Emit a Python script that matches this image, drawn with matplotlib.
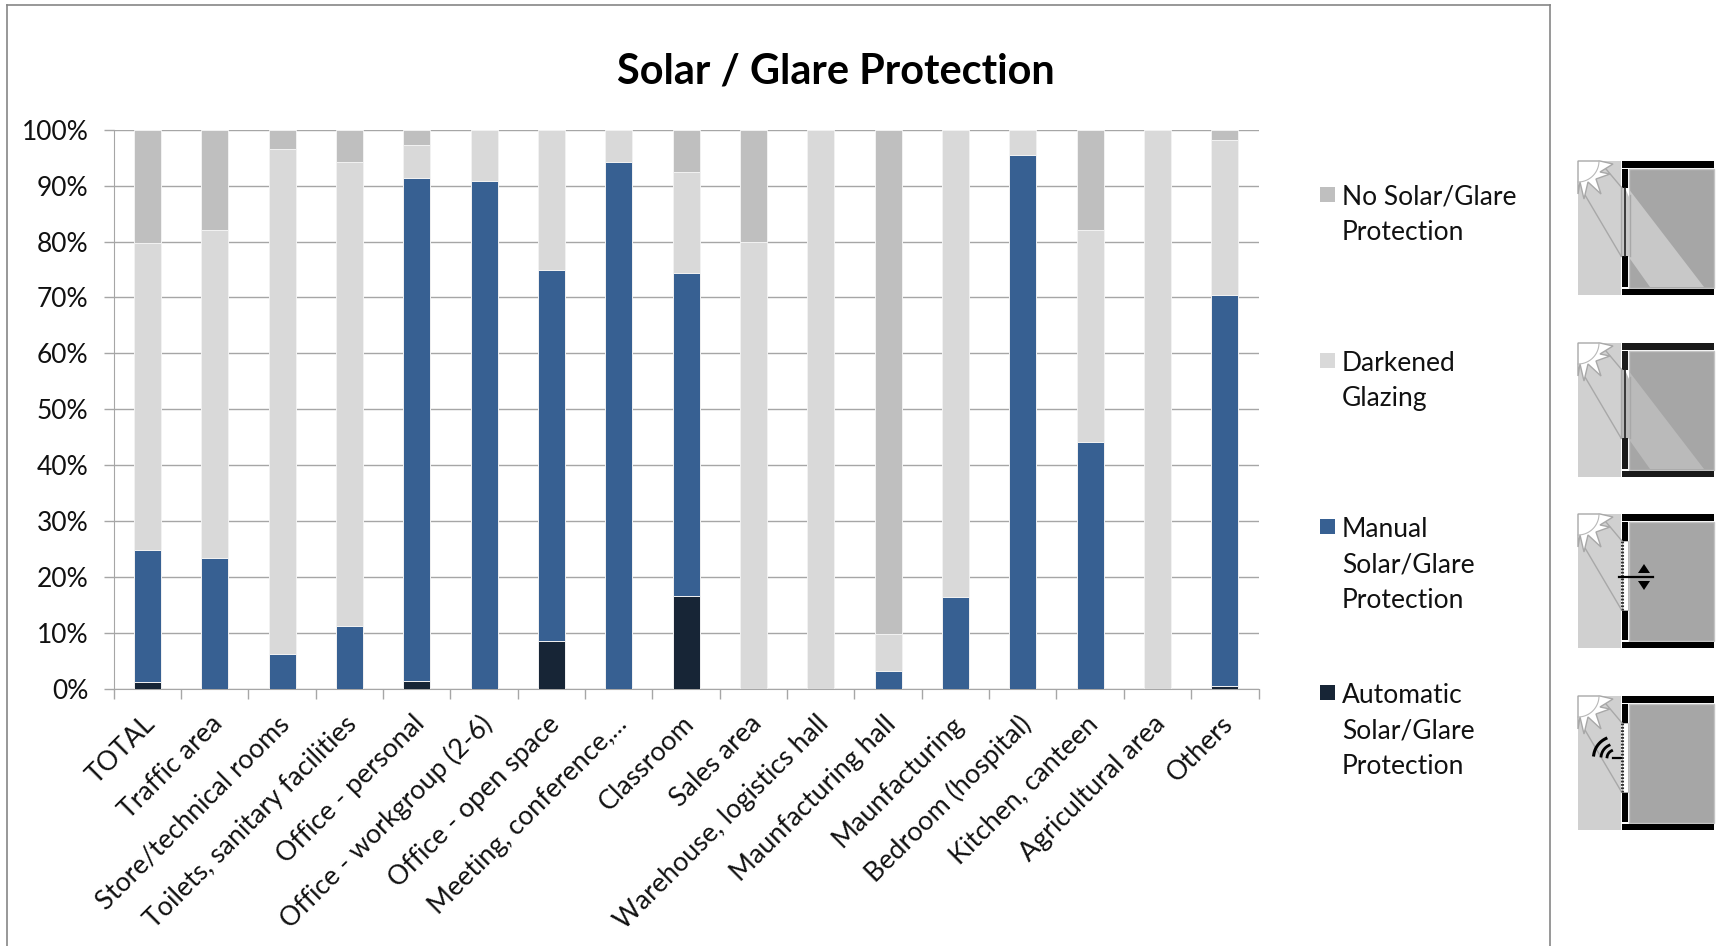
import numpy as np
import matplotlib
matplotlib.use("Agg")
import matplotlib.pyplot as plt
from matplotlib.patches import Rectangle, Polygon

plt.rcParams["font.family"] = ["Lato", "DejaVu Sans"]

W, H = 1717, 946

categories = ["TOTAL", "Traffic area", "Store/technical rooms", "Toilets, sanitary facilities",
              "Office - personal", "Office - workgroup (2-6)", "Office - open space",
              "Meeting, conference,...", "Classroom", "Sales area", "Warehouse, logistics hall",
              "Maunfacturing hall", "Maunfacturing", "Bedroom (hospital)", "Kitchen, canteen",
              "Agricultural area", "Others"]

automatic = [1.2, 0, 0, 0, 1.5, 0, 8.6, 0, 16.7, 0, 0, 0, 0, 0, 0, 0, 0.6]
manual = [23.6, 23.5, 6.2, 11.2, 89.9, 90.9, 66.4, 94.2, 57.6, 0, 0, 3.2, 16.5, 95.5, 44.2, 0, 69.8]
darkened = [55.0, 58.5, 90.3, 83.0, 5.8, 9.1, 25.0, 5.8, 18.1, 80.0, 100, 6.6, 83.5, 4.5, 37.8, 100, 27.8]
no_protection = [20.2, 18.0, 3.5, 5.8, 2.8, 0, 0, 0, 7.6, 20.0, 0, 90.2, 0, 0, 18.0, 0, 1.8]

series = [automatic, manual, darkened, no_protection]
colors = ["#172536", "#376092", "#d9d9d9", "#bfbfbf"]
legend_labels = ["Automatic\nSolar/Glare\nProtection", "Manual\nSolar/Glare\nProtection",
                 "Darkened\nGlazing", "No Solar/Glare\nProtection"]
legend_y = [693, 527, 361, 195]
y_ticks = list(range(0, 101, 10))


def draw_sun(ax, x0, y0):
    # quarter sun sitting in the top left corner of the icon
    outline = [(0, 0), (22, 0), (35, 3), (22, 11), (32, 13), (18, 18), (23, 33), (10, 21),
               (6, 38), (2, 21), (0, 33)]
    ax.add_patch(Polygon([(x0 + a, y0 + b) for a, b in outline], fc="white", ec="#a8a8a8", lw=1, zorder=5))
    t = np.radians(np.linspace(0, 90, 20))
    ax.plot(x0 + 21 * np.cos(t), y0 + 21 * np.sin(t), color="#b8b8b8", lw=0.8, zorder=6)


def draw_icon(ax, x0, y0, kind, black="#000000", beam="#c8c8c8"):
    ax.add_patch(Rectangle((x0, y0), 43, 134, fc="#d0d0d0", ec="none"))
    ax.add_patch(Rectangle((x0 + 51, y0 + 8), 85, 119, fc="#a6a6a6", ec="#c4c4c4", lw=1))
    if kind == "glass":
        ax.add_patch(Polygon([(x0 + 50, y0 + 27), (x0 + 126, y0 + 126), (x0 + 72, y0 + 126),
                              (x0 + 50, y0 + 95)], fc=beam, ec="none"))
        ax.add_patch(Rectangle((x0 + 43, y0 + 27), 9, 68, fc=beam, ec="none"))
        ax.add_patch(Polygon([(x0 + 47, y0 + 27), (x0 + 51, y0 + 27), (x0 + 51, y0 + 36)],
                             fc="white", ec="none", zorder=4))
        ax.plot([x0 + 47, x0 + 47], [y0 + 27, y0 + 95], color="#222222", lw=1.2, zorder=4)
        ax.plot([x0 + 43, x0 + 43], [y0 + 27, y0 + 95], color="#a8a8a8", lw=1, zorder=4)
        ax.plot([x0 + 52, x0 + 52], [y0 + 34, y0 + 95], color="#a8a8a8", lw=1, zorder=4)
    else:
        ax.add_patch(Rectangle((x0 + 44, y0 + 27), 6, 69, fc="white", ec="#b0b0b0", lw=0.6, zorder=4))
        ax.plot([x0 + 43.5, x0 + 43.5], [y0 + 27, y0 + 96], color="#333333", lw=2.2, ls=(0, (0.6, 0.5)), zorder=4)
    # rays from the sun to the window
    ax.plot([x0 + 28, x0 + 44], [y0 + 8, y0 + 27], color="#a8a8a8", lw=1, zorder=4)
    ax.plot([x0 + 7, x0 + 43], [y0 + 34, y0 + 95], color="#a8a8a8", lw=1, zorder=4)
    ax.add_patch(Rectangle((x0 + 44, y0), 92, 7, fc=black, ec="none"))
    ax.add_patch(Rectangle((x0 + 44, y0 + 128), 92, 6, fc=black, ec="none"))
    ax.add_patch(Rectangle((x0 + 44, y0 + 8), 6, 19, fc=black, ec="none"))
    ax.add_patch(Rectangle((x0 + 44, y0 + 95), 6, 31, fc=black, ec="none"))
    draw_sun(ax, x0, y0)
    if kind == "manual":
        # lever with up/down arrows
        ax.plot([x0 + 41, x0 + 75], [y0 + 63, y0 + 63], color="black", lw=1.6, zorder=6)
        ax.add_patch(Polygon([(x0 + 60, y0 + 59), (x0 + 72, y0 + 59), (x0 + 66, y0 + 50)], fc="black", ec="none", zorder=6))
        ax.add_patch(Polygon([(x0 + 60, y0 + 67), (x0 + 72, y0 + 67), (x0 + 66, y0 + 76)], fc="black", ec="none", zorder=6))
    if kind == "auto":
        # sensor stem and signal arcs
        ax.plot([x0 + 35, x0 + 43], [y0 + 62, y0 + 62], color="black", lw=1.6, zorder=6)
        a = np.radians(np.linspace(115, 172, 14))
        for r, lw in zip([8, 14, 21.5], [2.0, 2.0, 2.2]):
            ax.plot(x0 + 37 + r * np.cos(a), y0 + 62 - r * np.sin(a), color="black", lw=lw, zorder=6)


fig = plt.figure(figsize=(W / 100, H / 100), dpi=100)

# page level layer in pixels for the frame and the icons
page = fig.add_axes([0, 0, 1, 1], zorder=0)
page.set_xlim(0, W)
page.set_ylim(H, 0)
page.axis("off")
page.plot([6.5, 6.5], [946, 5], color="#868686", lw=1.2)
page.plot([6.5, 1549.5], [5, 5], color="#868686", lw=1.2)
page.plot([1549.5, 1549.5], [5, 946], color="#868686", lw=1.2)

draw_icon(page, 1578, 161, "glass")
draw_icon(page, 1578, 343, "glass", black="#1a1a1a", beam="#bababa")
draw_icon(page, 1578, 514, "manual")
draw_icon(page, 1578, 696, "auto")

ax = fig.add_axes([113.7 / W, 1 - 689 / H, (1258.5 - 113.7) / W, (689 - 129.7) / H], zorder=1)
ax.patch.set_alpha(0)

x = np.arange(len(categories))
bottom = np.zeros(len(categories))
for vals, col in zip(series, colors):
    ax.bar(x, vals, 0.4, bottom=bottom, color=col, edgecolor="#f2f2f2", linewidth=0.7, zorder=3)
    bottom += np.array(vals)

ax.set_xlim(-0.5, len(categories) - 0.5)
ax.set_ylim(0, 100)
ax.set_yticks(y_ticks)
ax.set_yticklabels([f"{v}%" for v in y_ticks], fontsize=19, color="#111111")
ax.set_xticks(np.arange(len(categories) + 1) - 0.5)
ax.set_xticklabels([])
ax.tick_params(axis="x", length=7.2, width=1, color="#a6a6a6")
ax.tick_params(axis="y", length=7, width=1, color="#a6a6a6", pad=11.3)
ax.grid(axis="y", color="#a6a6a6", lw=1, zorder=0)
ax.set_axisbelow(True)
for s in ["top", "right"]:
    ax.spines[s].set_visible(False)
for s in ["left", "bottom"]:
    ax.spines[s].set_color("#a6a6a6")

# rotated category labels, right end anchored below each bar
for i, name in enumerate(categories):
    ax.annotate(name, (i, 0), xytext=(-3.5, -16), textcoords="offset points", rotation=45,
                rotation_mode="anchor", ha="right", va="top", fontsize=19.3, color="#111111")

fig.text(836 / W, 1 - 72 / H, "Solar / Glare Protection", fontsize=29.9, fontweight="bold",
         color="black", ha="center", va="center")

# legend built by hand since the entries are spaced far apart
for label, col, ly in zip(legend_labels, colors, legend_y):
    page.add_patch(Rectangle((1320, ly - 8), 15, 15, fc=col, ec="none"))
    page.text(1342, ly - 10.5, label, fontsize=19, color="#111111", va="top", ha="left", linespacing=1.53)

fig.savefig("out.png", dpi=100)
